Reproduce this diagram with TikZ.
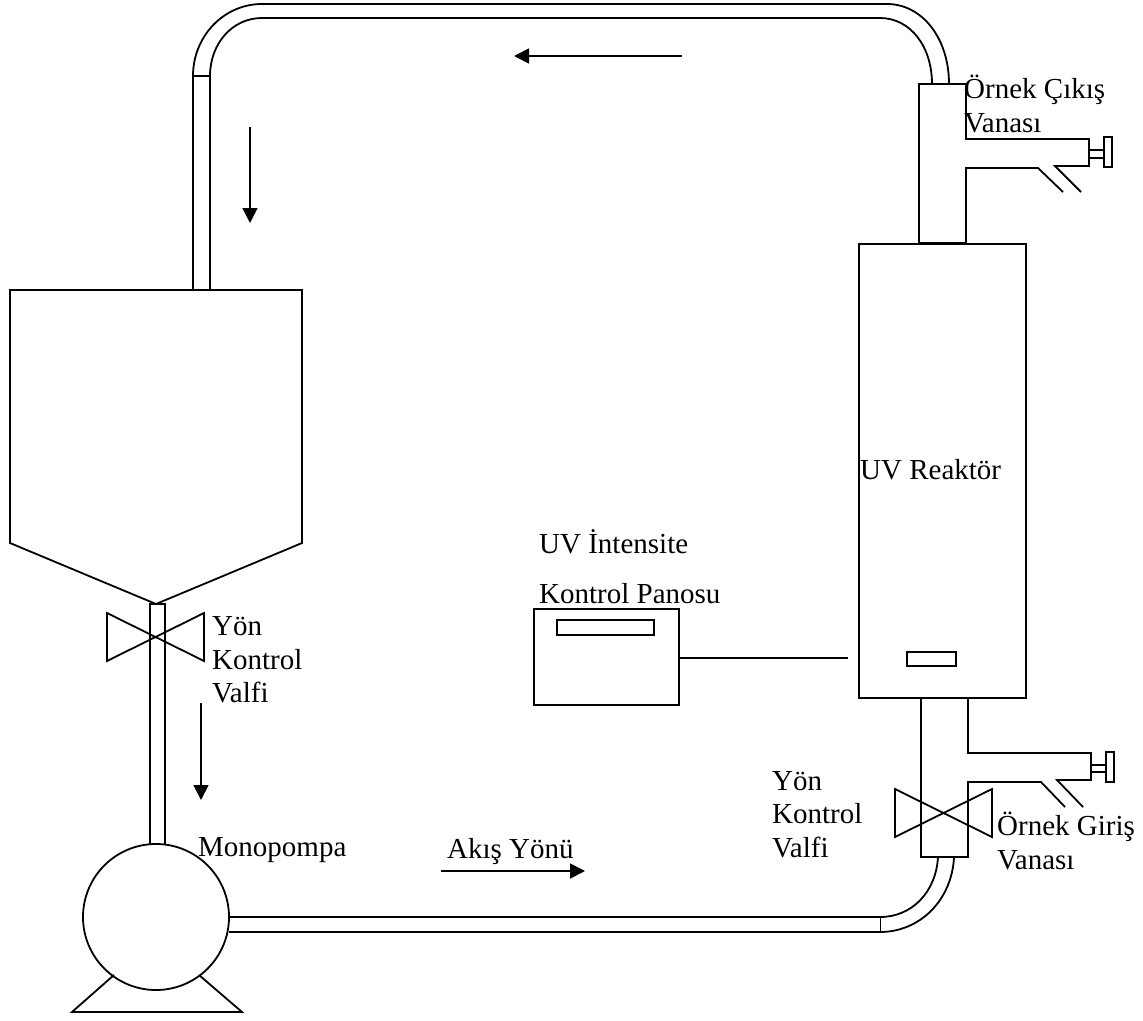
\documentclass[tikz,border=0pt]{standalone}
\usepackage{fontspec}
\setmainfont{Liberation Serif}
\usetikzlibrary{arrows.meta}
\tikzset{
  pipeline/.style={line width=1.8pt,line join=miter},
  flow/.style={line width=1.8pt,-{Triangle[length=15pt,width=15pt]}},
  lbl/.style={anchor=base west,inner sep=0pt,font=\fontsize{29}{34}\selectfont,text=black},
  boxn/.style={draw,line width=1.8pt,inner sep=0pt,anchor=north west}
}
\begin{document}
\begin{tikzpicture}[x=1pt,y=-1pt]
\useasboundingbox (0,0) rectangle (1143,1020);
% tank
\draw[pipeline] (10,290) -- (302,290) -- (302,543) -- (156,604) -- (10,543) -- cycle;
% tank top pipe
\draw[pipeline] (193,290) -- (193,76) -- (210,76) -- (210,290);
\draw[pipeline] (193,76) .. controls (193,36) and (224,4) .. (262,4) -- (887,4)
  .. controls (922,4) and (949,38) .. (949,84);
\draw[pipeline] (210,76) .. controls (210,44) and (232,18) .. (262,18) -- (880,18)
  .. controls (910,18) and (932,46) .. (932,84);
% upper outlet block
\draw[pipeline] (966,243) -- (919,243) -- (919,84) -- (966,84) -- (966,139) -- (1089,139) -- (1089,166) -- (1055,166) -- (1081,192);
\draw[pipeline] (966,243) -- (966,168) -- (1038,168) -- (1063,192);
\draw[pipeline] (1089,150) -- (1104,150) (1089,158) -- (1104,158);
\draw[pipeline] (1104,137) rectangle (1112,167);
% reactor
\node[boxn,minimum width=167pt,minimum height=454pt] (reactor) at (858,243) {};
\draw[pipeline] (907,652) rectangle (956,666);
% lower inlet block
\draw[pipeline] (921,697) -- (921,857) -- (968,857) -- (968,782) -- (1041,782) -- (1065,807);
\draw[pipeline] (968,697) -- (968,753) -- (1091,753) -- (1091,780) -- (1057,780) -- (1083,807);
\draw[pipeline] (1091,765) -- (1106,765) (1091,772) -- (1106,772);
\draw[pipeline] (1106,752) rectangle (1114,782);
\draw[pipeline] (895,789) -- (992,837) -- (992,789) -- (895,837) -- cycle;
% bottom pipe
\draw[pipeline] (938,857) .. controls (936,892) and (912,917) .. (880,917) -- (229,917);
\draw[pipeline] (954,857) .. controls (952,900) and (920,932) .. (880,932) -- (229,932);
\draw[line width=0.8pt] (880,917) -- (880,932);
% pump
\node[draw,circle,line width=1.8pt,fill=white,minimum size=146pt,inner sep=0pt] (pump) at (156,917) {};
\coordinate (baseL) at (72,1012);
\coordinate (baseR) at (242,1012);
\draw[pipeline] (114,975) -- (baseL) -- (baseR) -- (199,975);
% lower tank pipe
\draw[pipeline] (150,844) -- (150,604) -- (165,604) -- (165,844);
\draw[pipeline] (107,613) -- (204,661) -- (204,613) -- (107,661) -- cycle;
% panel
\node[boxn,minimum width=145pt,minimum height=96pt] (panel) at (533,608) {};
\draw[pipeline] (557,620) rectangle (654,635);
\coordinate (sensor) at (848,658);
\draw[pipeline] (panel.north east |- sensor) -- (sensor);
% flow arrows
\coordinate (a1) at (250,127); \coordinate (a2) at (250,223);
\draw[flow] (a1) -- (a2);
\coordinate (b1) at (201,703); \coordinate (b2) at (201,800);
\draw[flow] (b1) -- (b2);
\coordinate (c1) at (682,56); \coordinate (c2) at (514,56);
\draw[flow] (c1) -- (c2);
\coordinate (d1) at (441,871); \coordinate (d2) at (585,871);
\draw[flow] (d1) -- (d2);
% labels
\node[lbl] (t1) at (964,98) {Örnek Çıkış};
\node[lbl] (t2) at (964,132) {Vanası};
\node[lbl] (t3) at (860,479) {UV Reaktör};
\node[lbl] (t4) at (539,553) {UV İntensite};
\node[lbl] (t5) at (539,603) {Kontrol Panosu};
\node[lbl] (t6) at (212,635) {Yön};
\node[lbl] (t7) at (212,669) {Kontrol};
\node[lbl] (t8) at (212,702) {Valfi};
\node[lbl] (t9) at (198,856) {Monopompa};
\node[lbl] (t10) at (447,858) {Akış Yönü};
\node[lbl] (t11) at (772,790) {Yön};
\node[lbl] (t12) at (772,823) {Kontrol};
\node[lbl] (t13) at (772,857) {Valfi};
\node[lbl] (t14) at (997,835) {Örnek Giriş};
\node[lbl] (t15) at (997,869) {Vanası};
\end{tikzpicture}
\end{document}
